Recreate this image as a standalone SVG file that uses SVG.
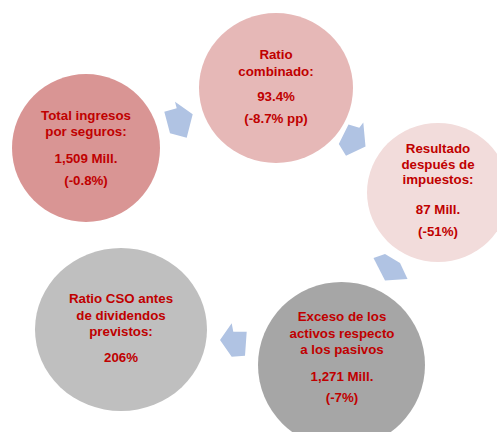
<svg xmlns="http://www.w3.org/2000/svg" width="497" height="432" viewBox="0 0 497 432">
<style>
.t{font-family:"Liberation Sans",Arial,sans-serif;font-weight:bold;font-size:13.3px;fill:#c00000;text-anchor:middle}
.arr{fill:#b0c3e3;stroke:none}
</style>
<rect width="497" height="432" fill="#ffffff"/>
<g id="connectors">
<polygon class="arr" points="164.3,111.7 176.7,108.3 175,101.7 192.7,114.3 186.7,137.7 170,133.3"/>
<polygon class="arr" points="348.5,124.5 359.3,127.7 363.3,122.5 365.5,146.5 346,155.7 338.8,144"/>
<polygon class="arr" points="385,280.5 373.5,258 385,254 400,263 407.5,279"/>
<polygon class="arr" points="220,340 231.7,323.3 233.3,331.7 246.7,331.7 245,355.7 231.7,356.7"/>
</g>
<g id="node1">
<ellipse cx="86" cy="148" rx="74" ry="74" fill="#d99594"/>
<text class="t" x="86" y="120.3">Total ingresos</text>
<text class="t" x="86" y="135.5">por seguros:</text>
<text class="t" x="86" y="163">1,509 Mill.</text>
<text class="t" x="86" y="184.5">(-0.8%)</text>
</g>
<g id="node2">
<ellipse cx="276" cy="88" rx="77" ry="75" fill="#e6b8b7"/>
<text class="t" x="276" y="59.3">Ratio</text>
<text class="t" x="276" y="76.3">combinado:</text>
<text class="t" x="276" y="101">93.4%</text>
<text class="t" x="276" y="122.7">(-8.7% pp)</text>
</g>
<g id="node3">
<ellipse cx="438" cy="192.5" rx="71" ry="69.5" fill="#f2dcdb"/>
<text class="t" x="438" y="153.3">Resultado</text>
<text class="t" x="438" y="169">después de</text>
<text class="t" x="438" y="184.3">impuestos:</text>
<text class="t" x="438" y="214">87 Mill.</text>
<text class="t" x="438" y="236">(-51%)</text>
</g>
<g id="node4">
<ellipse cx="341.5" cy="365" rx="83.5" ry="83" fill="#a6a6a6"/>
<text class="t" x="342" y="321">Exceso de los</text>
<text class="t" x="342" y="337.5">activos respecto</text>
<text class="t" x="342" y="354">a los pasivos</text>
<text class="t" x="342" y="380.5">1,271 Mill.</text>
<text class="t" x="342" y="401.5">(-7%)</text>
</g>
<g id="node5">
<ellipse cx="121" cy="329.5" rx="86" ry="81.5" fill="#bfbfbf"/>
<text class="t" x="121" y="302.7">Ratio CSO antes</text>
<text class="t" x="121" y="320">de dividendos</text>
<text class="t" x="121" y="336">previstos:</text>
<text class="t" x="121" y="361.7">206%</text>
</g>
</svg>
